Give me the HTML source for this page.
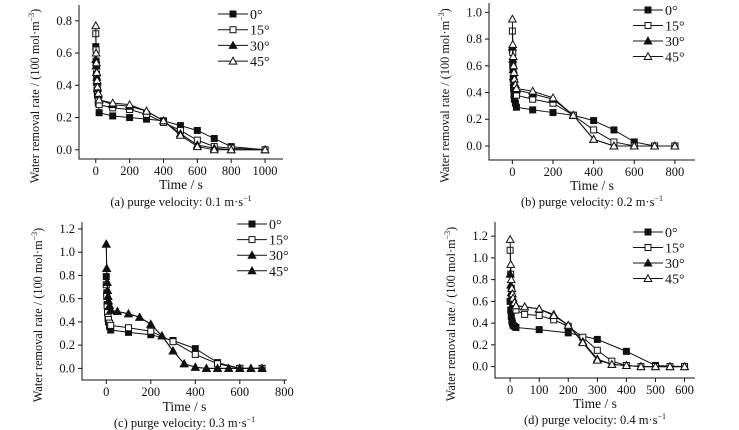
<!DOCTYPE html>
<html><head><meta charset="utf-8"><style>
body{margin:0;background:#fff;width:739px;height:430px;overflow:hidden}
svg{display:block;font-family:"Liberation Serif","DejaVu Serif",serif}
svg text{font-family:"Liberation Serif","DejaVu Serif",serif;fill:#111}
</style></head><body>
<svg id="c" width="739" height="430" font-family="Liberation Serif, serif"></svg>
<script>
// ---- data: panel a ----
const aT0=[0,2,4,6,8,10,15,20,100,200,300,400,500,600,700,800,1000];
const aS0=[0.64,0.55,0.47,0.42,0.37,0.34,0.29,0.23,0.21,0.20,0.19,0.18,0.15,0.12,0.07,0.02,0.00];
const aS15=[0.72,0.62,0.52,0.45,0.40,0.37,0.32,0.28,0.26,0.25,0.22,0.17,0.12,0.06,0.02,0.01,0.00];
const aS30=[0.56,0.52,0.48,0.45,0.42,0.38,0.34,0.31,0.28,0.27,0.24,0.18,0.10,0.03,0.01,0.00,0.00];
const aS45=[0.77,0.60,0.54,0.48,0.43,0.39,0.35,0.31,0.29,0.28,0.24,0.18,0.09,0.02,0.00,0.00,0.00];
// ---- panel b ----
const bT=[0,2,4,6,8,10,15,20,100,200,300,400,500,600,700,800];
const bS0=[0.72,0.60,0.50,0.43,0.38,0.35,0.32,0.29,0.27,0.25,0.23,0.19,0.12,0.03,0.00,0.00];
const bS15=[0.86,0.70,0.58,0.50,0.45,0.42,0.40,0.38,0.35,0.32,0.23,0.12,0.03,0.00,0.00,0.00];
const bS30=[0.74,0.65,0.57,0.52,0.48,0.46,0.44,0.42,0.39,0.35,0.23,0.05,0.00,0.00,0.00,0.00];
const bS45=[0.95,0.76,0.67,0.60,0.55,0.50,0.46,0.43,0.41,0.36,0.23,0.05,0.00,0.00,0.00,0.00];
// ---- panel c ----
const cTa=[0,2,4,6,8,10,15,20,100,200,300,400,500,600,700];
const cS0=[0.79,0.65,0.55,0.48,0.43,0.40,0.36,0.33,0.31,0.29,0.24,0.17,0.05,0.00,0.00];
const cS15=[0.72,0.62,0.54,0.48,0.44,0.42,0.39,0.37,0.35,0.32,0.23,0.12,0.04,0.00,0.00];
const cTb=[0,2,4,6,8,10,15,20,50,100,150,200,250,300,350,400,450,500,550,600,650,700];
const cS30=[1.07,0.86,0.74,0.67,0.62,0.58,0.54,0.50,0.49,0.47,0.44,0.38,0.28,0.15,0.04,0.01,0.00,0.00,0.00,0.00,0.00,0.00];
const cS45=[1.07,0.86,0.74,0.67,0.62,0.58,0.54,0.50,0.49,0.47,0.44,0.38,0.28,0.15,0.04,0.01,0.00,0.00,0.00,0.00,0.00,0.00];
// ---- panel d ----
const dTa=[0,2,4,6,8,10,15,20,100,200,300,400,500,600];
const dS0=[0.60,0.52,0.46,0.42,0.40,0.38,0.37,0.36,0.34,0.31,0.25,0.14,0.01,0.00];
const dTb=[0,2,4,6,8,10,15,20,50,100,150,200,250,300,350,400,450,500,550,600];
const dS15=[1.07,0.85,0.72,0.65,0.60,0.57,0.54,0.52,0.48,0.47,0.43,0.37,0.27,0.15,0.05,0.01,0.00,0.00,0.00,0.00];
const dS30=[0.85,0.75,0.68,0.63,0.60,0.58,0.57,0.56,0.55,0.53,0.48,0.38,0.23,0.07,0.02,0.01,0.00,0.00,0.00,0.00];
const dS45=[1.17,0.94,0.80,0.72,0.67,0.63,0.59,0.56,0.55,0.53,0.47,0.38,0.22,0.06,0.02,0.01,0.00,0.00,0.00,0.00];
const aXT=[0,200,400,600,800,1000], aYT=[0.0,0.2,0.4,0.6,0.8];
const bXT=[0,200,400,600,800], bYT=[0.0,0.2,0.4,0.6,0.8,1.0];
const cXT=[0,200,400,600,800], cYT=[0.0,0.2,0.4,0.6,0.8,1.0,1.2];
const dXT=[0,100,200,300,400,500,600], dYT=[0.0,0.2,0.4,0.6,0.8,1.0,1.2];
const legA=["0°","15°","30°","45°"];

const NS="http://www.w3.org/2000/svg", svg=document.getElementById('c');
const FF='Liberation Serif, serif';
function el(t,a,p){const e=document.createElementNS(NS,t);for(const k in a)e.setAttribute(k,a[k]);if(t==='text')e.setAttribute('font-family',FF);(p||svg).appendChild(e);return e;}
function marker(g,type,x,y){
  let m;
  if(type==='sf'||type==='so'){m=el('rect',{x:x-3,y:y-3,width:6,height:6,fill:type==='sf'?'#111':'#fff',stroke:'#111','stroke-width':1},g);}
  else{m=el('polygon',{points:`${x},${y-3.8} ${x+3.8},${y+3} ${x-3.8},${y+3}`,fill:type==='tf'?'#111':'#fff',stroke:'#111','stroke-width':1},g);}
  
  
}
function panel(o){
  const g=el('g',{});
  
  
  const sx=v=>o.L+(v-o.x0)/(o.x1-o.x0)*(o.R-o.L);
  const sy=v=>o.B-(v-o.y0)/(o.y1-o.y0)*(o.B-o.T);
  const ax=el('polyline',{points:`${o.L},${o.T} ${o.L},${o.B} ${o.R},${o.B}`,fill:'none',stroke:'#111','stroke-width':1},g);
  
  o.xt.forEach(v=>{const x=sx(v);el('line',{x1:x,y1:o.B,x2:x,y2:o.B+4,stroke:'#111'},g);
    const t=el('text',{x:x,y:o.B+16,'text-anchor':'middle','font-size':12.5},g);t.textContent=v;
    });
  o.yt.forEach(v=>{const y=sy(v);el('line',{x1:o.L-4,y1:y,x2:o.L,y2:y,stroke:'#111'},g);
    const t=el('text',{x:o.L-7,y:y+4,'text-anchor':'end','font-size':12.5},g);t.textContent=v.toFixed(1);
    });
  o.series.forEach(s=>{
    const pts=s.t.map((t,i)=>sx(t)+','+sy(s.v[i])).join(' ');
    const pl=el('polyline',{points:pts,fill:'none',stroke:'#111','stroke-width':1},g);
    
    s.t.forEach((t,i)=>marker(g,s.m,sx(t),sy(s.v[i])));
  });
  const cx=(o.L+o.R)/2;
  const xl=el('text',{x:cx,y:o.xly,'text-anchor':'middle','font-size':13.5},g);xl.textContent='Time / s';
  
  const cap=el('text',{x:cx,y:o.capy,'text-anchor':'middle','font-size':12.5},g);
  cap.innerHTML=o.cap+' m·s<tspan dy="-5" font-size="8">−1</tspan>';
  
  const yc=(o.T+o.B)/2+14;
  const yl=el('text',{x:0,y:0,'text-anchor':'middle','font-size':12.3,transform:`translate(${o.L-40},${yc}) rotate(-90)`},g);
  yl.innerHTML='Water removal rate / (100 mol·m<tspan dy="-5" font-size="8">−3</tspan><tspan dy="5">)</tspan>';
  
  o.series.forEach((s,i)=>{
    const y=o.ly+i*o.ld;
    const lg=el('g',{},g);
    
    el('line',{x1:o.lx,y1:y,x2:o.lx+30,y2:y,stroke:'#111'},lg);
    marker(lg,s.m,o.lx+15,y);
    const t=el('text',{x:o.lx+32,y:y+5,'font-size':14},lg);t.textContent=legA[i];
  });
}
panel({name:'panel-a',L:79,R:283,T:5,B:159,x0:-99,x1:1106,y0:-0.057,y1:0.898,xt:aXT,yt:aYT,xly:189,capy:206,cap:'(a) purge velocity: 0.1',lx:218,ly:14,ld:15.7,
 series:[{t:aT0,v:aS0,m:'sf'},{t:aT0,v:aS15,m:'so'},{t:aT0,v:aS30,m:'tf'},{t:aT0,v:aS45,m:'to'}]});
panel({name:'panel-b',L:489,R:695,T:3,B:160,x0:-115,x1:899,y0:-0.105,y1:1.07,xt:bXT,yt:bYT,xly:190,capy:206,cap:'(b) purge velocity: 0.2',lx:633,ly:10,ld:15.5,
 series:[{t:bT,v:bS0,m:'sf'},{t:bT,v:bS15,m:'so'},{t:bT,v:bS30,m:'tf'},{t:bT,v:bS45,m:'to'}]});
panel({name:'panel-c',L:82,R:287,T:222,B:380,x0:-109,x1:812,y0:-0.1,y1:1.26,xt:cXT,yt:cYT,xly:411,capy:427,cap:'(c) purge velocity: 0.3',lx:237,ly:224,ld:15.6,
 series:[{t:cTa,v:cS0,m:'sf'},{t:cTa,v:cS15,m:'so'},{t:cTb,v:cS30,m:'tf'},{t:cTb,v:cS45,m:'tf'}]});
panel({name:'panel-d',L:495,R:695,T:222,B:378,x0:-52,x1:636,y0:-0.105,y1:1.33,xt:dXT,yt:dYT,xly:408,capy:424,cap:'(d) purge velocity: 0.4',lx:633,ly:232,ld:15.5,
 series:[{t:dTa,v:dS0,m:'sf'},{t:dTb,v:dS15,m:'so'},{t:dTb,v:dS30,m:'tf'},{t:dTb,v:dS45,m:'to'}]});
</script>
</body></html>
